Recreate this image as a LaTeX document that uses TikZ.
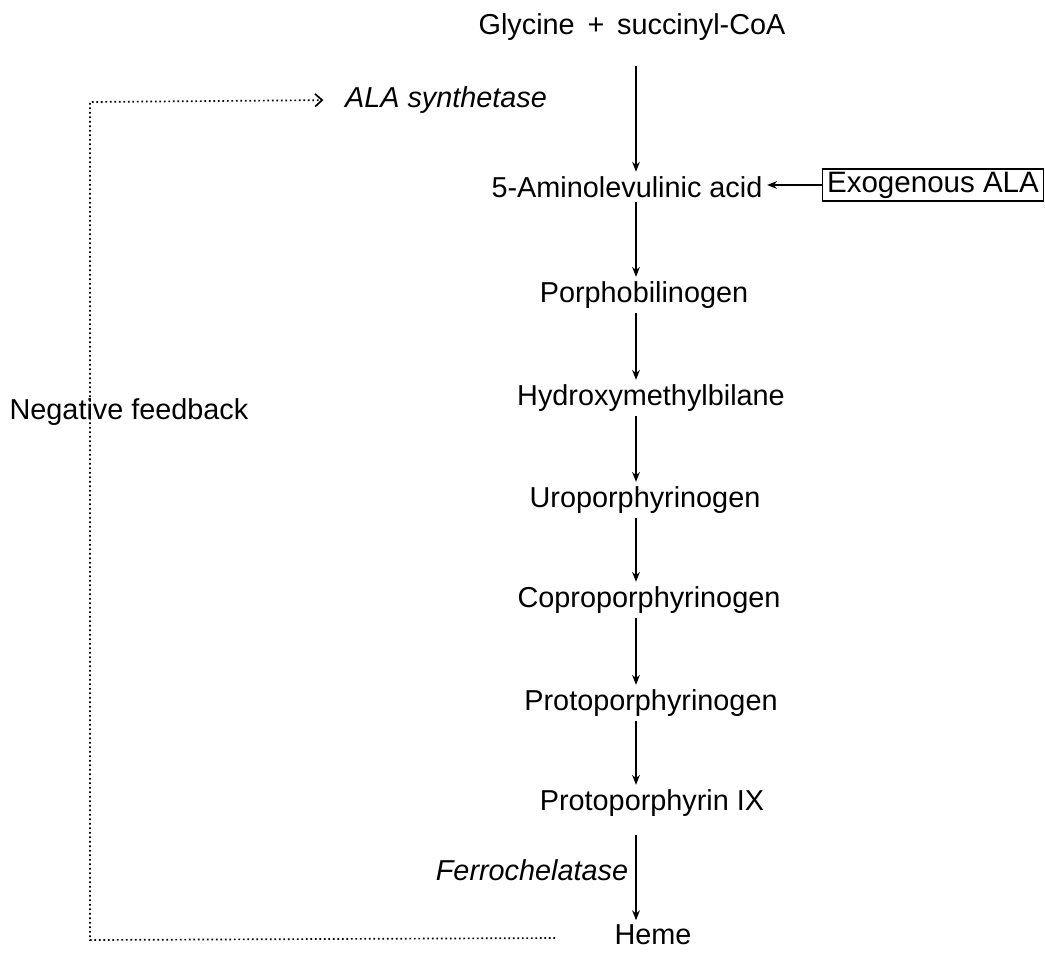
\documentclass[tikz,border=0pt]{standalone}
\usepackage{fontspec}
\setmainfont{Liberation Sans}
\usetikzlibrary{arrows.meta, positioning}
\tikzset{>={Stealth[length=7pt,width=5.5pt]}}
\tikzset{
	met/.style={font=\fontsize{20.5}{24}\selectfont, inner sep=3pt},
	enz/.style={font=\fontsize{20.5}{24}\selectfont\itshape, inner sep=3pt},
	fb/.style={dotted, line width=1.2pt}
}

\begin{document}
\begin{tikzpicture}[x=0.025cm, y=-0.025cm, line width=0.8pt]
		\useasboundingbox (0,0) rectangle (1045,955);
		% pathway
		\node[met] (gly) at (632,27) {Glycine \,+\, succinyl-CoA};
		\node[enz] (alasyn) at (446,100) {ALA synthetase};
		\node[met] (ala) at (627,187) {5-Aminolevulinic acid};
		\node[met, font=\fontsize{21}{24}\selectfont, draw, inner xsep=3pt, inner ysep=2pt] (exo) at (933,185) {Exogenous ALA};
		\node[met] (pbg) at (644,295) {Porphobilinogen};
		\node[met] (hmb) at (651,398) {Hydroxymethylbilane};
		\node[met] (uro) at (645,500) {Uroporphyrinogen};
		\node[met] (copro) at (649,600) {Coproporphyrinogen};
		\node[met] (protogen) at (651,703) {Protoporphyrinogen};
		\node[met] (proto) at (652,803) {Protoporphyrin IX};
		\node[enz] (fech) at (532,870) {Ferrochelatase};
		\node[met] (heme) at (653,935) {Heme};
		\node[met] (neg) at (129,412) {Negative feedback};
		\coordinate (col) at (636,0);

		\draw [->, shorten <=15pt](gly.south -| col) -- (ala.north -| col);
		\draw [->](ala.south -| col) -- (pbg.north -| col);
		\draw [->](pbg.south -| col) -- (hmb.north -| col);
		\draw [->](hmb.south -| col) -- (uro.north -| col);
		\draw [->](uro.south -| col) -- (copro.north -| col);
		\draw [->](copro.south -| col) -- (protogen.north -| col);
		\draw [->](protogen.south -| col) -- (proto.north -| col);
		\draw [->, shorten <=10pt](proto.south -| col) -- (heme.north -| col);
		\draw [->](exo.west) -- (ala.east |- exo.west);

		% feedback loop
		\coordinate (fbstart) at (555,938);
		\coordinate (fbbot) at (90,940);
		\coordinate (fbtop) at (90,102);
		\draw [fb, -{Straight Barb[length=5pt,width=9pt,line width=1.2pt]}, shorten >=12pt](fbstart) -- (fbbot) -- (fbtop) -- (alasyn.west);
		\end{tikzpicture}
\end{document}
